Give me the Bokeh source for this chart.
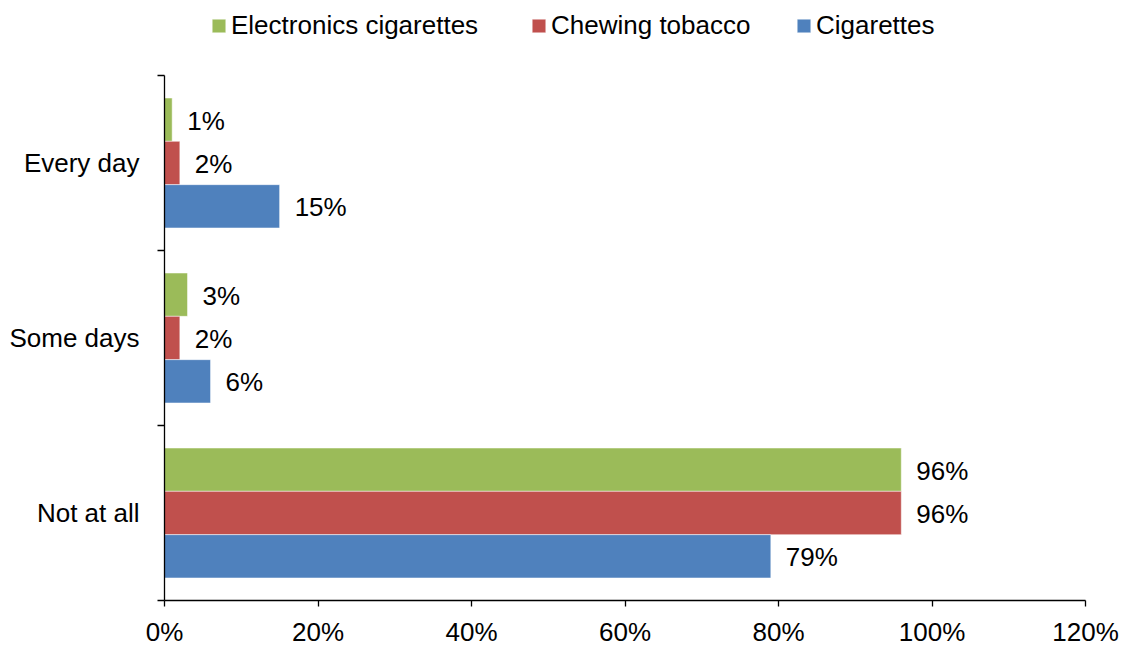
from bokeh.plotting import figure
from bokeh.models import (ColumnDataSource, FixedTicker, Legend, LegendItem, Range1d,
                          PrintfTickFormatter, CustomJSTickFormatter)
from bokeh.core.properties import value
from bokeh.embed import file_html
from bokeh.resources import INLINE

# ---- data (bottom to top) ----
categories = ["Not at all", "Some days", "Every day"]
series_names = ["Electronics cigarettes", "Chewing tobacco", "Cigarettes"]
e_cigarettes = [96, 3, 1]
chewing_tobacco = [96, 2, 2]
cigarettes = [79, 6, 15]
x_ticks = [0, 20, 40, 60, 80, 100, 120]

# ---- style / layout ----
colors = ["#9BBB59", "#C0504D", "#4F81BD"]
offsets = [0.2476, 0.0, -0.2476]
bar_h = 0.2476
FONT = "Liberation Sans"
FS = "26px"
PLOT_TOP = 75      # px from top where the category area starts
FRAME_H = 600      # frame spans from top of canvas to the x axis
n = len(categories)
px_per_cat = (FRAME_H - PLOT_TOP) / n
y_end = n + PLOT_TOP / px_per_cat  # extra room above for the legend

p = figure(frame_width=921, frame_height=FRAME_H, output_backend="svg", toolbar_location=None,
           x_range=Range1d(0, 120), y_range=Range1d(0, y_end),
           min_border_left=164, min_border_right=40, min_border_top=0, min_border_bottom=46)
p.outline_line_color = None
p.xgrid.grid_line_color = None
p.ygrid.grid_line_color = None

renderers = []
for name, vals, col, off in zip(series_names, [e_cigarettes, chewing_tobacco, cigarettes], colors, offsets):
    src = ColumnDataSource(dict(
        y=[i + 0.5 + off for i in range(n)],
        v=vals,
        lab=[f"{v}%" for v in vals],
    ))
    r = p.hbar(y="y", right="v", left=0, height=bar_h, source=src, fill_color=col,
               line_color="white", line_alpha=0.5, line_width=1)
    renderers.append(r)
    p.text(x="v", y="y", text="lab", source=src, x_offset=15, y_offset=1,
           text_baseline="middle", text_align="left", text_color="black",
           text_font=value(FONT), text_font_size=FS)

# x axis
xa = p.xaxis[0]
xa.ticker = FixedTicker(ticks=x_ticks, minor_ticks=[])
xa.formatter = PrintfTickFormatter(format="%d%%")
xa.axis_line_color = "black"
xa.axis_line_width = 1.3
xa.major_tick_line_color = "black"
xa.major_tick_line_width = 1.3
xa.major_tick_out = 6
xa.major_tick_in = 0
xa.minor_tick_line_color = None
xa.major_label_text_font = FONT
xa.major_label_text_font_size = FS
xa.major_label_text_color = "black"
xa.major_label_standoff = 10

# y axis
ya = p.yaxis[0]
ya.bounds = (0, n)
ya.ticker = FixedTicker(ticks=[i + 0.5 for i in range(n)], minor_ticks=list(range(n + 1)))
ya.formatter = CustomJSTickFormatter(args=dict(labels=categories),
                                     code="return labels[Math.floor(tick)];")
ya.axis_line_color = "black"
ya.axis_line_width = 1.3
ya.major_tick_out = 0
ya.major_tick_in = 0
ya.major_tick_line_color = None
ya.minor_tick_out = 7
ya.minor_tick_in = 0
ya.minor_tick_line_color = "black"
ya.minor_tick_line_width = 1.3
ya.major_label_text_font = FONT
ya.major_label_text_font_size = FS
ya.major_label_text_color = "black"
ya.major_label_standoff = 18

# legends at the top (one per series, positioned individually)
leg_x = [46, 366, 631]
for name, r, lx in zip(series_names, renderers, leg_x):
    lg = Legend(items=[LegendItem(label=name, renderers=[r])], location=(lx, FRAME_H - 41),
                orientation="horizontal", glyph_width=17, glyph_height=17,
                label_standoff=4, padding=0, margin=0, spacing=0,
                border_line_color=None, background_fill_alpha=0,
                label_text_font=FONT, label_text_font_size=FS, label_text_color="black")
    p.add_layout(lg, "center")

open("out.html", "w").write(file_html(p, INLINE))
